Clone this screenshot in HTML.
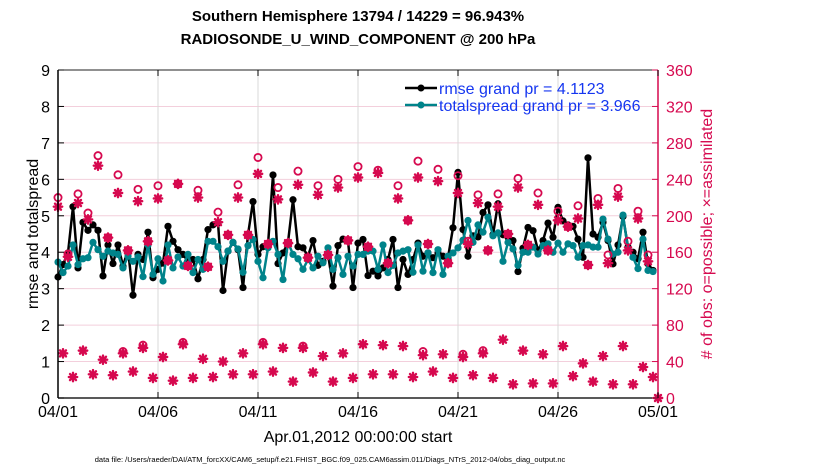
<!DOCTYPE html>
<html><head><meta charset="utf-8">
<style>
body{margin:0;background:#fff;}
svg{display:block;font-family:"Liberation Sans",Arial,sans-serif;}
</style></head>
<body>
<svg id="chart" width="830" height="470" viewBox="0 0 830 470" xmlns="http://www.w3.org/2000/svg">
<g id="grid"></g>
<g id="series"></g>
<g id="axes"></g>
<text x="358" y="21" text-anchor="middle" font-size="15" font-weight="bold">Southern Hemisphere 13794 / 14229 = 96.943%</text>
<text x="358" y="44" text-anchor="middle" font-size="15" font-weight="bold">RADIOSONDE_U_WIND_COMPONENT @ 200 hPa</text>
<text transform="translate(38,234) rotate(-90)" text-anchor="middle" font-size="16">rmse and totalspread</text>
<text transform="translate(712,234) rotate(-90)" text-anchor="middle" font-size="16" fill="#d6094f"># of obs: o=possible; ×=assimilated</text>
<text x="358" y="442" text-anchor="middle" font-size="16">Apr.01,2012 00:00:00 start</text>
<text x="330" y="462" text-anchor="middle" font-size="7.5">data file: /Users/raeder/DAI/ATM_forcXX/CAM6_setup/f.e21.FHIST_BGC.f09_025.CAM6assim.011/Diags_NTrS_2012-04/obs_diag_output.nc</text>
<g>
  <line x1="405" y1="88" x2="437" y2="88" stroke="#000" stroke-width="2.5"/>
  <circle cx="421" cy="88" r="3.5" fill="#000"/>
  <text x="439" y="94" font-size="16" fill="#1536f0">rmse grand pr = 4.1123</text>
  <line x1="405" y1="105" x2="437" y2="105" stroke="#00838a" stroke-width="2.5"/>
  <circle cx="421" cy="105" r="3.5" fill="#00838a"/>
  <text x="439" y="111" font-size="16" fill="#1536f0">totalspread grand pr = 3.966</text>
</g>
</svg>
<script>
const rmse = [3.32,3.66,3.98,5.25,3.57,4.82,4.6,4.75,4.6,3.35,4.2,3.69,4.2,3.62,4.07,2.82,3.94,3.8,4.55,3.3,3.53,3.7,4.71,4.3,4.07,3.94,3.75,3.8,3.27,3.8,
4.62,4.75,4.8,2.95,4.03,4.27,4.07,3.03,4.48,5.39,3.94,4.15,4.2,6.12,3.69,3.98,4.27,5.44,4.15,4.12,3.89,4.32,3.64,3.75,3.94,3.07,4.18,4.36,4.3,3.03,
4.25,4.35,3.36,3.48,3.35,3.57,3.8,4.35,3.03,3.8,3.39,3.8,4.25,3.89,3.98,3.85,3.98,3.89,3.85,4.67,6.19,4.62,3.89,4.45,4.42,5.09,5.3,4.48,5.33,4.48,
4.41,4.32,3.47,4.11,4.68,4.59,4.05,4.32,4.8,4.41,5.23,4.86,4.75,4.71,4.36,3.86,6.59,4.5,4.41,4.82,4.32,3.68,4.2,4.98,4.14,4.0,3.82,4.55,3.68,3.5];
const spread = [3.73,3.44,3.62,4.2,3.66,3.82,3.85,4.27,4.07,3.89,4.03,3.98,3.94,3.57,3.89,3.75,3.87,3.33,4.2,3.39,3.82,3.21,4.2,3.57,3.87,3.62,3.94,3.44,3.8,3.53,
4.3,4.3,4.15,3.75,4.03,4.27,4.09,3.45,4.18,4.35,3.75,3.3,4.12,4.3,3.94,3.25,4.27,3.94,3.82,3.53,3.8,3.57,3.89,3.71,4.12,3.53,3.85,3.39,3.89,3.62,
3.94,3.94,4.03,4.03,3.53,4.2,3.44,3.64,3.98,4.03,4.07,3.45,4.2,3.48,3.98,3.44,4.07,3.39,3.89,3.98,4.12,4.33,4.87,4.27,4.75,4.55,4.96,4.45,4.53,3.75,
4.27,4.09,3.64,4.0,4.0,4.14,3.95,4.18,4.23,4.0,4.25,4.0,4.23,4.18,3.86,4.18,4.2,4.14,4.14,4.91,4.36,3.95,4.0,5.02,4.09,3.86,3.55,4.36,3.5,3.47];
// observation counts at 00Z/12Z (even steps) and 06Z/18Z (odd steps)
const upperPossible = [220,158,224,203,266,176,245,162,229,172,233,151,235,145,228,144,204,179,234,179,264,169,231,170,249,154,233,157,240,173,
254,166,250,148,233,195,260,169,251,148,244,172,223,162,224,180,241,168,225,162,205,188,211,146,219,157,230,172,205,157];
const upperAssim = [210,155,214,196,255,176,225,162,216,172,219,151,235,145,220,144,193,179,220,179,246,169,218,170,234,154,223,157,231,173,
242,166,247,148,219,195,242,169,238,148,225,169,214,162,210,180,231,168,212,162,195,188,197,146,212,148,221,162,197,150];
const lowerAssim = [49,23,52,26,42,25,49,29,55,22,45,19,59,22,43,23,40,26,49,26,59,29,55,18,55,28,46,18,49,22,
59,26,58,26,57,23,47,29,48,22,45,25,49,22,64,15,52,16,48,16,57,24,38,18,46,15,57,15,34,23];
const lowerPossible = [49,23,52,26,42,25,51,29,58,22,45,19,61,22,43,23,40,26,49,26,61,29,55,18,57,28,46,18,49,22,
59,26,58,26,57,23,51,29,48,22,48,25,52,22,64,15,52,16,48,16,57,24,38,18,46,15,57,15,34,23];
const leftTicks = [0,1,2,3,4,5,6,7,8,9];
const rightTicks = [0,40,80,120,160,200,240,280,320,360];
const dateLabels = ['04/01','04/06','04/11','04/16','04/21','04/26','05/01'];
const dateDays = [0,5,10,15,20,25,30];

const NS='http://www.w3.org/2000/svg';
const X0=58,X1=658,Y0=398,Y1=70;
const xStep=i=>X0+(X1-X0)*(i*0.25)/30;
const xDay=d=>X0+(X1-X0)*d/30;
const yL=v=>Y0-(Y0-Y1)*v/9;
const yR=v=>Y0-(Y0-Y1)*v/360;
const PINK='#d6094f', TEAL='#00838a';
function mk(tag,attrs,parent){const e=document.createElementNS(NS,tag);for(const k in attrs)e.setAttribute(k,attrs[k]);parent.appendChild(e);return e;}
const grid=document.getElementById('grid'),ser=document.getElementById('series'),ax=document.getElementById('axes');

rightTicks.forEach(t=>{const l=mk('line',{x1:X0,x2:X1,y1:yR(t),y2:yR(t),stroke:'#f3cfdc','stroke-width':1},grid);

});
dateDays.forEach(d=>{const l=mk('line',{x1:xDay(d),x2:xDay(d),y1:Y1,y2:Y0,stroke:'#d9d9d9','stroke-width':1},grid);

});

function drawSeries(vals,color,name){
  const pts=vals.map((v,i)=>xStep(i)+','+yL(v)).join(' ');
  const pl=mk('polyline',{points:pts,fill:'none',stroke:color,'stroke-width':2.5,'stroke-linejoin':'round'},ser);
  
  
  vals.forEach((v,i)=>{const c=mk('circle',{cx:xStep(i),cy:yL(v),r:3.6,fill:color},ser);
  
  });
}
function star(x,y){const g=mk('g',{stroke:PINK,'stroke-width':2.4,'stroke-linecap':'round'},ser);
  
  
  const s=4.2,d=3;
  mk('line',{x1:x-s,y1:y,x2:x+s,y2:y},g);mk('line',{x1:x,y1:y-s,x2:x,y2:y+s},g);
  mk('line',{x1:x-d,y1:y-d,x2:x+d,y2:y+d},g);mk('line',{x1:x-d,y1:y+d,x2:x+d,y2:y-d},g);}
function ring(x,y){const c=mk('circle',{cx:x,cy:y,r:3.6,fill:'none',stroke:PINK,'stroke-width':1.8},ser);
  
  }

drawSeries(rmse,'#000','rmse');
drawSeries(spread,TEAL,'totalspread');
upperPossible.forEach((v,k)=>{const x=xStep(2*k);ring(x,yR(v));star(x,yR(upperAssim[k]));});
lowerPossible.forEach((v,k)=>{const x=xStep(2*k+1);if(v!==lowerAssim[k])ring(x,yR(v));star(x,yR(lowerAssim[k]));});
star(X1,yR(0));

// axes
let a=mk('line',{x1:X0,y1:Y1,x2:X0,y2:Y0,stroke:'#000','stroke-width':1.5},ax);


a=mk('line',{x1:X0,y1:Y0,x2:X1,y2:Y0,stroke:'#222','stroke-width':1.5},ax);


a=mk('line',{x1:X0,y1:Y1,x2:X1,y2:Y1,stroke:'#222','stroke-width':1},ax);


a=mk('line',{x1:X1,y1:Y1,x2:X1,y2:Y0,stroke:PINK,'stroke-width':1.5},ax);


leftTicks.forEach(t=>{mk('line',{x1:X0,x2:X0+6,y1:yL(t),y2:yL(t),stroke:'#000','stroke-width':1},ax);
  const tx=mk('text',{x:X0-8,y:yL(t)+6,'text-anchor':'end','font-size':16},ax);tx.textContent=t;
  
  });
rightTicks.forEach(t=>{mk('line',{x1:X1-6,x2:X1,y1:yR(t),y2:yR(t),stroke:PINK,'stroke-width':1},ax);
  const tx=mk('text',{x:X1+8,y:yR(t)+6,'font-size':16,fill:PINK},ax);tx.textContent=t;
  
  });
dateLabels.forEach((lab,j)=>{const x=xDay(dateDays[j]);
  mk('line',{x1:x,x2:x,y1:Y0,y2:Y0-6,stroke:'#000','stroke-width':1},ax);
  mk('line',{x1:x,x2:x,y1:Y1,y2:Y1+6,stroke:'#000','stroke-width':1},ax);
  const tx=mk('text',{x:x,y:417,'text-anchor':'middle','font-size':16},ax);tx.textContent=lab;
  
  });
</script>
</body></html>
